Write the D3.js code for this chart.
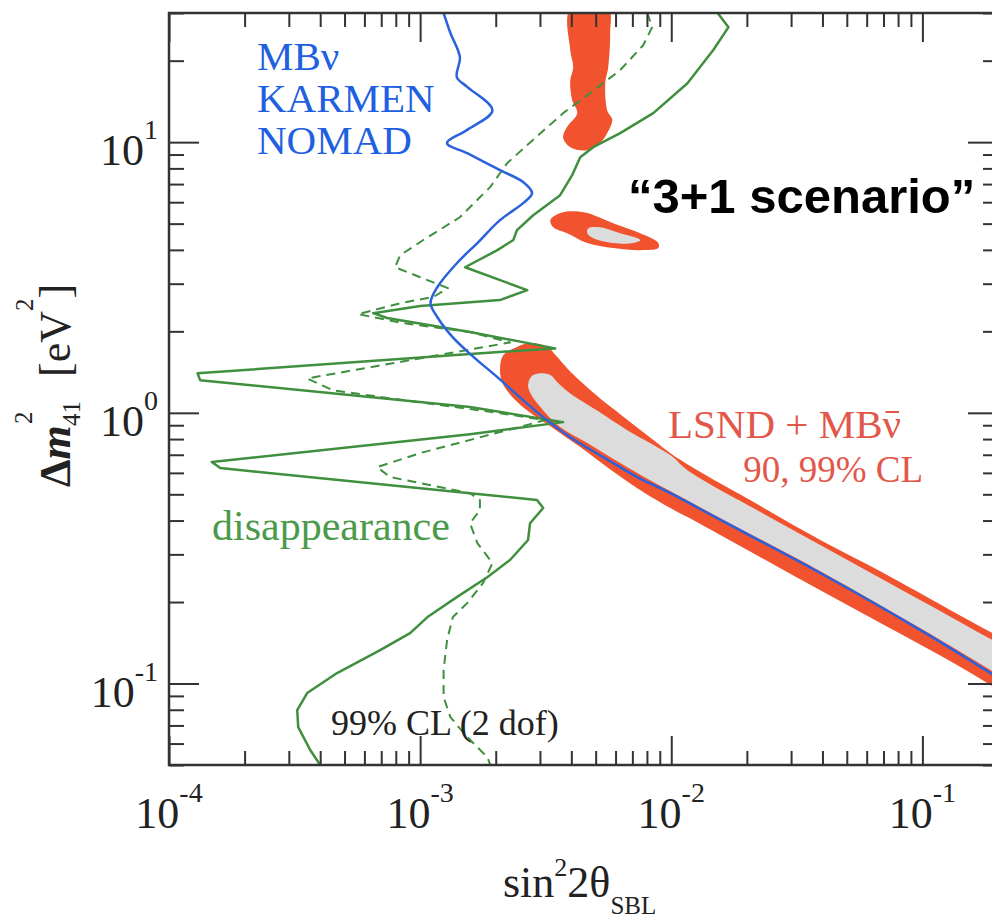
<!DOCTYPE html>
<html>
<head>
<meta charset="utf-8">
<script src="https://cdn.jsdelivr.net/npm/d3@7"></script>
<style>
  body { margin: 0; background: #fff; }
  svg { display: block; }
</style>
</head>
<body>
<svg id="chart" width="992" height="921"></svg>
<script>
// ---- data: [sin^2 2theta, Delta m^2_41 (eV^2)] ----
const xDomain = [1e-4, 0.2];
const yDomain = [0.05, 30];

const xMajorTicks = [1e-4, 1e-3, 1e-2, 1e-1];
const xTickExponents = ["-4", "-3", "-2", "-1"];
const yMajorTicks = [0.1, 1, 10];
const yTickExponents = ["-1", "0", "1"];

// MBnu + KARMEN + NOMAD appearance exclusion (99% CL)
const appearanceLimit = [
  [1.24e-3, 30], [1.32e-3, 25.3], [1.44e-3, 20.6], [1.40e-3, 17.4], [1.54e-3, 16.0],
  [1.94e-3, 13.1], [1.54e-3, 11.1], [1.28e-3, 9.92], [1.54e-3, 9.10], [2.08e-3, 7.88],
  [2.57e-3, 7.12], [2.79e-3, 6.48], [2.57e-3, 5.95], [2.08e-3, 5.15], [1.69e-3, 4.24],
  [1.40e-3, 3.57], [1.17e-3, 2.91], [1.10e-3, 2.54], [1.17e-3, 2.26], [1.35e-3, 1.90],
  [1.63e-3, 1.61], [2.03e-3, 1.355], [2.50e-3, 1.14], [3.09e-3, 0.964], [3.96e-3, 0.813],
  [5.36e-3, 0.686], [7.32e-3, 0.579], [9.91e-3, 0.505], [1.57e-2, 0.402], [3.92e-2, 0.256],
  [9.82e-2, 0.1575], [0.201, 0.1047]
];

// disappearance bound, solid
const disappearanceSolid = [
  [1.53e-2, 30], [1.69e-2, 26.6], [1.47e-2, 21.9], [1.16e-2, 16.5], [8.48e-3, 12.8],
  [6.26e-3, 10.8], [4.89e-3, 9.58], [4.34e-3, 8.80], [4.03e-3, 7.55], [3.61e-3, 6.37],
  [2.82e-3, 5.37], [2.43e-3, 4.73], [2.35e-3, 4.35], [2.03e-3, 3.99], [1.51e-3, 3.45],
  [2.67e-3, 2.84], [2.08e-3, 2.61], [1.00e-3, 2.48], [6.50e-4, 2.335], [7.39e-4, 2.24],
  [1.58e-3, 1.99], [3.45e-3, 1.73], [1.58e-3, 1.65], [1.30e-4, 1.40], [1.33e-4, 1.32],
  [1.58e-3, 1.05], [3.71e-3, 0.924], [1.58e-3, 0.834], [1.48e-4, 0.658], [1.60e-4, 0.625],
  [1.58e-3, 0.505], [2.92e-3, 0.476], [3.09e-3, 0.445], [2.74e-3, 0.391], [2.69e-3, 0.339],
  [2.28e-3, 0.286], [1.85e-3, 0.247], [1.40e-3, 0.2086], [1.07e-3, 0.176], [9.12e-4, 0.1535],
  [6.93e-4, 0.1328], [4.67e-4, 0.1093], [3.55e-4, 0.0922], [3.24e-4, 0.0797], [3.27e-4, 0.069],
  [3.65e-4, 0.0568], [4.00e-4, 0.050], [4.07e-4, 0.0479]
];

// disappearance bound, dashed
const disappearanceDashed = [
  [8.02e-3, 30], [8.40e-3, 26.6], [7.73e-3, 22.8], [6.26e-3, 18.45], [4.76e-3, 15.2],
  [3.71e-3, 12.8], [2.82e-3, 10.2], [2.22e-3, 8.36], [1.90e-3, 6.82], [1.73e-3, 6.26],
  [1.44e-3, 5.28], [1.03e-3, 4.35], [8.32e-4, 3.82], [7.95e-4, 3.45], [1.00e-3, 3.17],
  [1.29e-3, 2.89], [1.13e-3, 2.68], [8.32e-4, 2.54], [5.66e-4, 2.315], [8.56e-4, 2.145],
  [1.58e-3, 1.99], [2.28e-3, 1.82], [3.55e-4, 1.34], [4.50e-4, 1.21], [2.08e-3, 0.997],
  [3.15e-3, 0.940], [1.00e-3, 0.710], [6.74e-4, 0.630], [7.59e-4, 0.579], [1.58e-3, 0.505],
  [1.73e-3, 0.476], [1.73e-3, 0.437], [1.58e-3, 0.391], [1.69e-3, 0.330], [1.94e-3, 0.2786],
  [1.78e-3, 0.2349], [1.54e-3, 0.1982], [1.35e-3, 0.176], [1.28e-3, 0.1446], [1.24e-3, 0.1121],
  [1.24e-3, 0.0891], [1.32e-3, 0.0751], [1.54e-3, 0.0634], [1.85e-3, 0.0535], [1.94e-3, 0.0479]
];

// LSND + MBnubar allowed regions
const lsndBand99 = [
  [2.08e-3, 1.44], [2.14e-3, 1.63], [2.43e-3, 1.75], [2.74e-3, 1.81], [3.21e-3, 1.75],
  [3.51e-3, 1.61], [3.85e-3, 1.46], [4.34e-3, 1.31], [5.21e-3, 1.13], [6.26e-3, 0.989],
  [8.02e-3, 0.827], [1.09e-2, 0.669], [2.06e-2, 0.476], [3.92e-2, 0.339], [6.80e-2, 0.260],
  [0.129, 0.187], [0.214, 0.1446], [0.3, 0.122], [0.3, 0.0758], [0.214, 0.0914],
  [0.133, 0.119], [7.25e-2, 0.162], [3.92e-2, 0.221], [2.12e-2, 0.303], [1.16e-2, 0.412],
  [9.91e-3, 0.445], [7.32e-3, 0.527], [5.56e-3, 0.630], [4.34e-3, 0.747], [3.39e-3, 0.878],
  [2.67e-3, 1.02], [2.28e-3, 1.17], [2.12e-3, 1.30]
];
const lsndBand90 = [
  [2.69e-3, 1.27], [2.79e-3, 1.37], [3.01e-3, 1.40], [3.30e-3, 1.38], [3.51e-3, 1.30],
  [3.96e-3, 1.18], [5.07e-3, 1.02], [6.68e-3, 0.863], [9.91e-3, 0.698], [1.16e-2, 0.614],
  [2.12e-2, 0.445], [3.92e-2, 0.325], [7.25e-2, 0.237], [0.133, 0.174], [0.214, 0.136],
  [0.3, 0.114], [0.3, 0.0863], [0.214, 0.104], [9.82e-2, 0.160], [3.92e-2, 0.260],
  [1.57e-2, 0.408], [9.91e-3, 0.514], [8.48e-3, 0.555], [6.26e-3, 0.652], [4.63e-3, 0.773],
  [3.61e-3, 0.886], [3.01e-3, 1.05], [2.74e-3, 1.19]
];
const lsndIsland99 = [
  [3.30e-3, 5.15], [3.61e-3, 5.47], [4.07e-3, 5.56], [4.63e-3, 5.47], [5.87e-3, 5.02],
  [7.53e-3, 4.61], [8.88e-3, 4.24], [8.88e-3, 4.06], [7.53e-3, 3.99], [5.87e-3, 4.06],
  [4.63e-3, 4.24], [3.85e-3, 4.61], [3.39e-3, 4.85]
];
const lsndIsland90 = [
  [4.67e-3, 4.81], [5.21e-3, 4.85], [6.09e-3, 4.65], [7.53e-3, 4.35], [7.06e-3, 4.24],
  [5.87e-3, 4.24], [4.89e-3, 4.42], [4.63e-3, 4.61]
];
const lsndHighMass99 = [
  [3.96e-3, 31], [3.96e-3, 21.9], [4.07e-3, 18.9], [3.96e-3, 16.9], [4.03e-3, 14.3],
  [4.22e-3, 12.8], [3.85e-3, 11.4], [3.71e-3, 10.4], [3.96e-3, 9.58], [4.63e-3, 9.34],
  [5.21e-3, 9.92], [5.56e-3, 10.8], [5.82e-3, 12.1], [5.56e-3, 13.1], [5.46e-3, 16.5],
  [5.61e-3, 18.9], [5.71e-3, 25.3], [5.61e-3, 31]
];

// ---- drawing ----
const plot = { left: 169, right: 998, top: 13, bottom: 765 };
const serif = "'Liberation Serif', 'Times New Roman', Times, serif";
const sans = "'Liberation Sans', Arial, Helvetica, sans-serif";

const colBlue = "#2a62dc";
const colGreen = "#3f8f3f";
const colRed = "#f2532f";
const colGrey = "#dcdcdc";
const colAxis = "#333";
const colLabelRed = "#e2574a";

const x = d3.scaleLog().domain(xDomain).range([plot.left, plot.right]);
const y = d3.scaleLog().domain(yDomain).range([plot.bottom, plot.top]);

const svg = d3.select("#chart");

svg.append("defs").append("clipPath").attr("id", "plotClip")
  .append("rect")
  .attr("x", plot.left).attr("y", plot.top)
  .attr("width", plot.right - plot.left).attr("height", plot.bottom - plot.top);

const layer = svg.append("g").attr("clip-path", "url(#plotClip)");

const area = d3.line().x(d => x(d[0])).y(d => y(d[1])).curve(d3.curveCatmullRomClosed.alpha(0.5));
const smooth = d3.line().x(d => x(d[0])).y(d => y(d[1])).curve(d3.curveCatmullRom.alpha(0.5));
const straight = d3.line().x(d => x(d[0])).y(d => y(d[1]));

// allowed regions
layer.append("path").attr("d", area(lsndBand99)).attr("fill", colRed);
layer.append("path").attr("d", area(lsndBand90)).attr("fill", colGrey);
layer.append("path").attr("d", area(lsndIsland99)).attr("fill", colRed);
layer.append("path").attr("d", area(lsndIsland90)).attr("fill", colGrey);
layer.append("path").attr("d", area(lsndHighMass99)).attr("fill", colRed);

// disappearance bounds
layer.append("path").attr("d", straight(disappearanceDashed))
  .attr("fill", "none").attr("stroke", colGreen).attr("stroke-width", 2)
  .attr("stroke-dasharray", "9,6").attr("stroke-linejoin", "round");
layer.append("path").attr("d", straight(disappearanceSolid))
  .attr("fill", "none").attr("stroke", colGreen).attr("stroke-width", 2.5)
  .attr("stroke-linejoin", "round");

// appearance exclusion
layer.append("path").attr("d", smooth(appearanceLimit))
  .attr("fill", "none").attr("stroke", colBlue).attr("stroke-width", 2.5);

// ---- frame and ticks ----
const xMinor = [];
for (let d = -4; d <= -1; d++) for (let k = 2; k <= 9; k++) {
  const v = k * Math.pow(10, d);
  if (v <= xDomain[1]) xMinor.push(v);
}
const yMinor = [];
for (let d = -2; d <= 1; d++) for (let k = 2; k <= 9; k++) {
  const v = k * Math.pow(10, d);
  if (v >= yDomain[0] && v <= yDomain[1]) yMinor.push(v);
}

const axes = svg.append("g");
function ticks(axisFn, scale, values, size, tx, ty) {
  const g = axes.append("g").attr("transform", `translate(${tx},${ty})`)
    .call(axisFn(scale).tickValues(values).tickSize(size).tickFormat(""));
  g.select(".domain").remove();
  g.selectAll("text").remove();
  g.selectAll("line").attr("stroke", colAxis).attr("stroke-width", 2);
}
ticks(d3.axisBottom, x, xMajorTicks, -29, 0, plot.bottom);
ticks(d3.axisBottom, x, xMinor, -14, 0, plot.bottom);
ticks(d3.axisTop, x, xMajorTicks, -29, 0, plot.top);
ticks(d3.axisTop, x, xMinor, -14, 0, plot.top);
ticks(d3.axisLeft, y, yMajorTicks, -30, plot.left, 0);
ticks(d3.axisLeft, y, yMinor, -15, plot.left, 0);
ticks(d3.axisRight, y, yMajorTicks, -30, plot.right, 0);
ticks(d3.axisRight, y, yMinor, -15, plot.right, 0);

axes.append("rect")
  .attr("x", plot.left).attr("y", plot.top)
  .attr("width", plot.right - plot.left).attr("height", plot.bottom - plot.top)
  .attr("fill", "none").attr("stroke", colAxis).attr("stroke-width", 2.5);

// power-of-ten tick labels
function powerLabel(px, py, exp, anchor) {
  const t = svg.append("text")
    .attr("x", px).attr("y", py).attr("text-anchor", anchor)
    .attr("font-family", serif).attr("font-size", 44).attr("fill", "#222");
  t.append("tspan").text("10");
  t.append("tspan").attr("dy", -26).attr("font-size", 28).text(exp);
}
xMajorTicks.forEach((v, i) => powerLabel(x(v), 828, xTickExponents[i], "middle"));
yMajorTicks.forEach((v, i) => powerLabel(158, y(v) + 23, yTickExponents[i], "end"));

// axis titles
const xt = svg.append("text").attr("x", 503).attr("y", 897)
  .attr("font-family", serif).attr("font-size", 44).attr("fill", "#222");
xt.append("tspan").text("sin");
xt.append("tspan").attr("dy", -21).attr("font-size", 26).text("2");
xt.append("tspan").attr("dy", 21).text("2θ");
xt.append("tspan").attr("dy", 17).attr("font-size", 25).text("SBL");

const yt = svg.append("g").attr("transform", "translate(70,487) rotate(-90)")
  .attr("font-family", serif).attr("fill", "#222");
const ym = yt.append("text").attr("x", 0).attr("y", 0).attr("font-size", 44).attr("font-weight", "bold");
ym.append("tspan").text("Δ");
ym.append("tspan").attr("font-style", "italic").text("m");
yt.append("text").attr("x", 63).attr("y", -38).attr("font-size", 25).text("2");
yt.append("text").attr("x", 61).attr("y", 10).attr("font-size", 25).text("41");
const yu = yt.append("text").attr("x", 110).attr("y", 0).attr("font-size", 44);
yu.append("tspan").text("[eV");
yu.append("tspan").attr("dy", -37).attr("font-size", 25).text("2");
yu.append("tspan").attr("dy", 37).text("]");

// annotations
const blueNames = ["MBν", "KARMEN", "NOMAD"];
blueNames.forEach((s, i) => {
  svg.append("text").attr("x", 257).attr("y", 70 + i * 42)
    .attr("font-family", serif).attr("font-size", 41).attr("fill", "#2060e0").text(s);
});

svg.append("text").attr("x", 628).attr("y", 213)
  .attr("font-family", sans).attr("font-weight", "bold").attr("font-size", 49)
  .attr("fill", "#000").text("“3+1 scenario”");

// LSND + MB(anti-nu): the bar over the nu is drawn as a short stroke
const lsndText = "LSND + MBν";
const lsnd = svg.append("text").attr("x", 668).attr("y", 438)
  .attr("font-family", serif).attr("font-size", 41).attr("fill", colLabelRed).text(lsndText);
{
  const n = lsnd.node();
  const i = lsndText.length - 1;
  const s = n.getStartPositionOfChar(i), e = n.getEndPositionOfChar(i);
  svg.append("line")
    .attr("x1", s.x + 3).attr("x2", e.x - 2)
    .attr("y1", 438 - 26).attr("y2", 438 - 26)
    .attr("stroke", colLabelRed).attr("stroke-width", 2);
}
svg.append("text").attr("x", 923).attr("y", 482).attr("text-anchor", "end")
  .attr("font-family", serif).attr("font-size", 37).attr("fill", colLabelRed).text("90, 99% CL");

svg.append("text").attr("x", 212).attr("y", 540)
  .attr("font-family", serif).attr("font-size", 42).attr("fill", "#4a9a4a").text("disappearance");

svg.append("text").attr("x", 331).attr("y", 735)
  .attr("font-family", serif).attr("font-size", 36).attr("fill", "#222").text("99% CL (2 dof)");
</script>
</body>
</html>
